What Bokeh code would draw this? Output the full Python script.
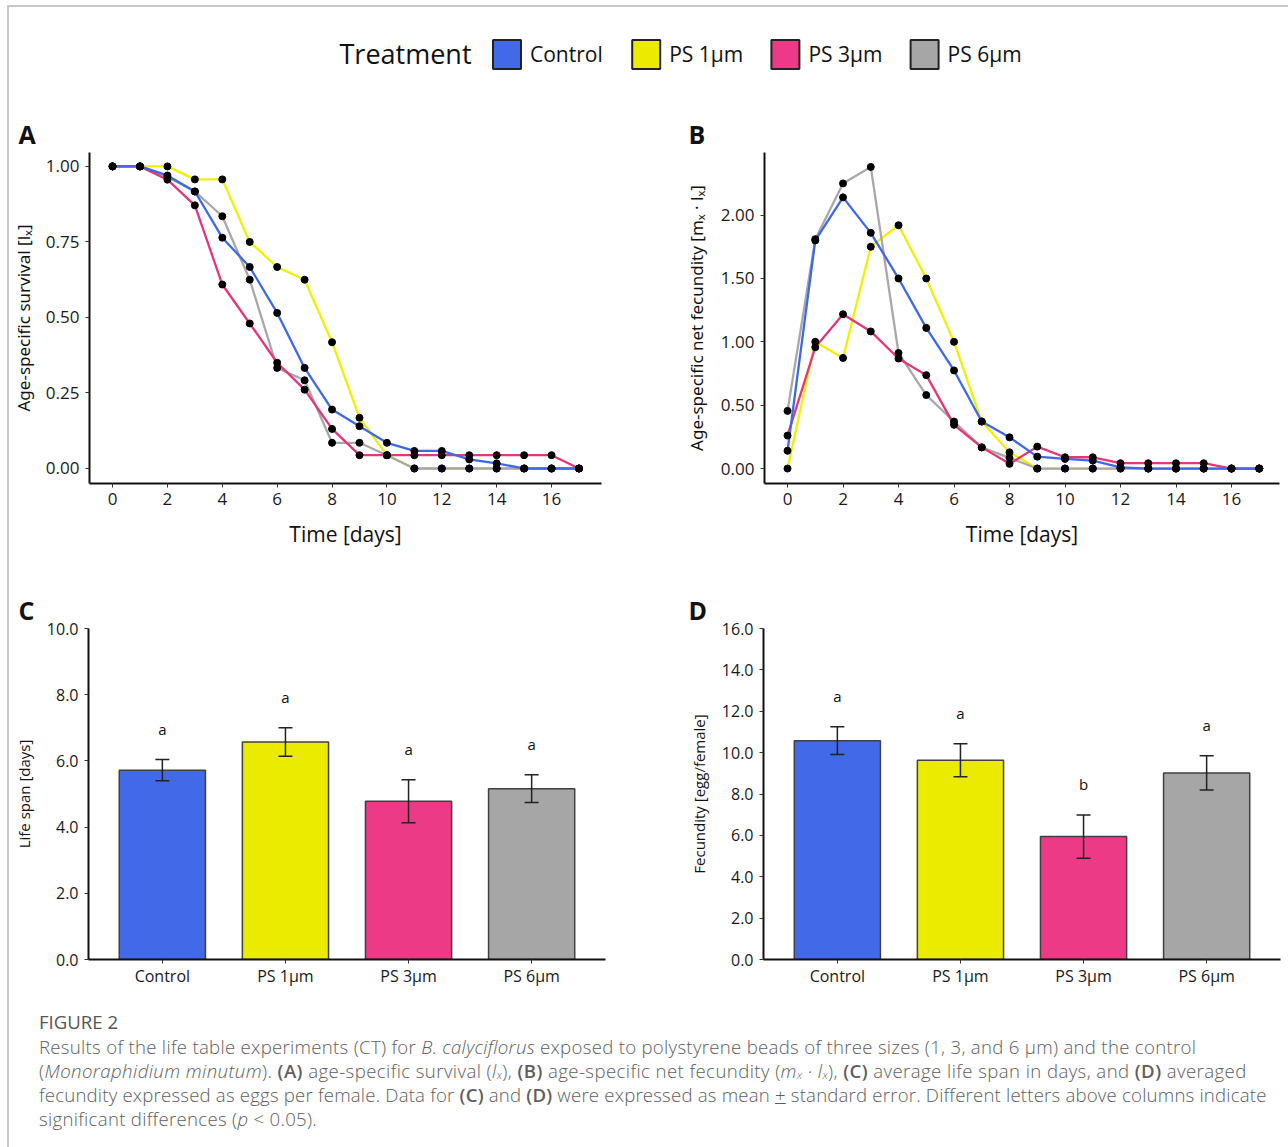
from bokeh.plotting import figure
from bokeh.models import (Range1d, FactorRange, Title, Div, Whisker, ColumnDataSource,
                          FixedTicker, NumeralTickFormatter, TeeHead)
from bokeh.layouts import column, row
from bokeh.embed import file_html
from bokeh.resources import INLINE
from bokeh.core.properties import value

# ---------------- data ----------------
treatments = ["Control", "PS 1µm", "PS 3µm", "PS 6µm"]
bar_colors = ["#4169E8", "#EBEB00", "#EC3A86", "#A6A6A6"]
line_colors = ["#3F68E8", "#F0F000", "#E8347A", "#A8A8A8"]
days = list(range(18))

survival_control = [1.0, 1.0, 0.970, 0.917, 0.764, 0.667, 0.515, 0.333, 0.195, 0.140, 0.085, 0.058, 0.058, 0.030, 0.017, 0.0, 0.0, 0.0]
survival_ps1 = [1.0, 1.0, 1.0, 0.957, 0.957, 0.750, 0.667, 0.625, 0.418, 0.168, 0.044, 0.0, 0.0, 0.0, 0.0, 0.0, 0.0, 0.0]
survival_ps3 = [1.0, 1.0, 0.956, 0.871, 0.609, 0.480, 0.350, 0.261, 0.131, 0.044, 0.044, 0.044, 0.044, 0.044, 0.044, 0.044, 0.044, 0.0]
survival_ps6 = [1.0, 1.0, 0.965, 0.917, 0.835, 0.625, 0.333, 0.292, 0.085, 0.085, 0.044, 0.0, 0.0, 0.0, 0.0, 0.0, 0.0, 0.0]

fecund_control = [0.14, 1.80, 2.14, 1.86, 1.50, 1.11, 0.774, 0.371, 0.246, 0.094, 0.076, 0.063, 0.010, 0.0, 0.0, 0.0, 0.0, 0.0]
fecund_ps1 = [0.0, 1.00, 0.873, 1.75, 1.92, 1.50, 1.00, 0.371, 0.128, 0.0, 0.0, 0.0, 0.0, 0.0, 0.0, 0.0, 0.0, 0.0]
fecund_ps3 = [0.26, 0.957, 1.218, 1.082, 0.868, 0.737, 0.345, 0.167, 0.037, 0.173, 0.089, 0.089, 0.042, 0.042, 0.042, 0.042, 0.0, 0.0]
fecund_ps6 = [0.455, 1.81, 2.25, 2.38, 0.912, 0.580, 0.371, 0.167, 0.084, 0.0, 0.0, 0.0, 0.0, 0.0, 0.0, 0.0, 0.0, 0.0]

lifespan_mean = [5.72, 6.57, 4.78, 5.16]
lifespan_se = [0.32, 0.43, 0.65, 0.42]
lifespan_letters = ["a", "a", "a", "a"]

fecundity_mean = [10.58, 9.63, 5.94, 9.02]
fecundity_se = [0.67, 0.80, 1.05, 0.83]
fecundity_letters = ["a", "a", "b", "a"]

x_ticks = [0, 2, 4, 6, 8, 10, 12, 14, 16]
surv_ticks = [0.0, 0.25, 0.5, 0.75, 1.0]
fec_ticks = [0.0, 0.5, 1.0, 1.5, 2.0]
life_ticks = [0, 2, 4, 6, 8, 10]
egg_ticks = [0, 2, 4, 6, 8, 10, 12, 14, 16]

FONT = "Open Sans"


def base_fig(**kw):
    p = figure(toolbar_location=None, output_backend="svg", **kw)
    p.border_fill_color = None
    p.background_fill_color = None
    p.outline_line_color = None
    p.grid.visible = False
    return p


def style_axes(p, tick_size, label_size):
    for ax in (p.xaxis[0], p.yaxis[0]):
        ax.axis_line_width = 2
        ax.axis_line_color = "#111111"
        ax.major_tick_line_color = "#333333"
        ax.major_tick_out = 4
        ax.major_tick_in = 0
        ax.minor_tick_line_color = None
        ax.major_label_text_font = FONT
        ax.major_label_text_font_size = tick_size
        ax.major_label_text_color = "#1a1a1a"
        ax.axis_label_text_font = FONT
        ax.axis_label_text_font_style = "normal"
        ax.axis_label_text_color = "#111111"
    p.yaxis[0].axis_label_text_font_size = label_size


def panel_letter(p, txt, offset):
    p.add_layout(Title(text=txt, align="left", offset=offset, standoff=4,
                       text_font=FONT, text_font_style="bold", text_font_size="25px",
                       text_color="#111111"), "above")


# ---------------- legend strip ----------------
LEG_W, LEG_H = 1288, 100
leg = base_fig(width=LEG_W, height=LEG_H, x_range=Range1d(0, LEG_W), y_range=Range1d(0, LEG_H),
               x_axis_location=None, y_axis_location=None, min_border=0)
sq0, step, cy = 506.5, 139.2, 46
sq_x = [sq0 + i * step for i in range(len(treatments))]
leg.rect(x=sq_x, y=cy, width=28, height=29, fill_color=bar_colors, line_color="#222222", line_width=2)
leg.text(x=[x + 23 for x in sq_x], y=cy + 1, text=treatments, text_font=value(FONT),
         text_font_size="21px", text_baseline="middle", text_color="#111111")
leg.text(x=[339], y=[cy + 1], text=["Treatment"], text_font=value(FONT),
         text_font_size="27px", text_baseline="middle", text_color="#111111")

draw_order = [1, 3, 2, 0]

# ---------------- panel A ----------------
pA = base_fig(width=660, height=475, x_range=Range1d(-0.84, 17.82), y_range=Range1d(-0.0497, 1.046),
              min_border_left=89, min_border_right=59, min_border_top=52, min_border_bottom=92)
surv = [survival_control, survival_ps1, survival_ps3, survival_ps6]
for i in draw_order:
    pA.line(days, surv[i], line_color=line_colors[i], line_width=2.3)
for i in draw_order:
    pA.scatter(days, surv[i], size=7, fill_color="black", line_color="black")
style_axes(pA, "17px", "17px")
pA.xaxis[0].ticker = FixedTicker(ticks=x_ticks)
pA.yaxis[0].ticker = FixedTicker(ticks=surv_ticks)
pA.yaxis[0].formatter = NumeralTickFormatter(format="0.00")
pA.xaxis[0].axis_label = "Time [days]"
pA.xaxis[0].axis_label_text_font_size = "21px"
pA.xaxis[0].major_label_standoff = 5
pA.xaxis[0].axis_label_standoff = 12
pA.yaxis[0].axis_label = "Age-specific survival [lₓ]"
pA.yaxis[0].axis_label_text_font = "Noto Sans"
pA.yaxis[0].major_label_standoff = 6
pA.yaxis[0].axis_label_standoff = 8
panel_letter(pA, "A", -71)

# ---------------- panel B ----------------
pB = base_fig(width=628, height=475, x_range=Range1d(-0.83, 17.73), y_range=Range1d(-0.118, 2.494),
              min_border_left=104, min_border_right=9, min_border_top=50, min_border_bottom=92)
fec = [fecund_control, fecund_ps1, fecund_ps3, fecund_ps6]
for i in draw_order:
    pB.line(days, fec[i], line_color=line_colors[i], line_width=2.3)
for i in draw_order:
    pB.scatter(days, fec[i], size=7, fill_color="black", line_color="black")
style_axes(pB, "17px", "17px")
pB.xaxis[0].ticker = FixedTicker(ticks=x_ticks)
pB.yaxis[0].ticker = FixedTicker(ticks=fec_ticks)
pB.yaxis[0].formatter = NumeralTickFormatter(format="0.00")
pB.xaxis[0].axis_label = "Time [days]"
pB.xaxis[0].axis_label_text_font_size = "21px"
pB.xaxis[0].major_label_standoff = 5
pB.xaxis[0].axis_label_standoff = 12
pB.yaxis[0].axis_label = "Age-specific net fecundity [mₓ · lₓ]"
pB.yaxis[0].axis_label_text_font = "Noto Sans"
pB.yaxis[0].major_label_standoff = 6
pB.yaxis[0].axis_label_standoff = 10
panel_letter(pB, "B", -76)


# ---------------- bar panels ----------------
def bar_panel(width, mb, y_end, means, ses, letters, ticks, ylabel, letter, loff):
    p = base_fig(width=width, height=430, x_range=FactorRange(*treatments, range_padding=0.05),
                 y_range=Range1d(0, y_end),
                 min_border_left=mb[0], min_border_right=mb[1], min_border_top=mb[2],
                 min_border_bottom=mb[3])
    upper = [m + s for m, s in zip(means, ses)]
    lower = [m - s for m, s in zip(means, ses)]
    src = ColumnDataSource(dict(x=treatments, top=means, upper=upper, lower=lower,
                                color=bar_colors, letter=letters))
    p.vbar(x="x", top="top", width=0.7, fill_color="color", line_color="#404040",
           line_width=1.5, source=src)
    p.add_layout(Whisker(base="x", upper="upper", lower="lower", source=src, level="overlay",
                         line_color="#222222", line_width=1.5,
                         upper_head=TeeHead(size=14, line_color="#222222", line_width=1.5),
                         lower_head=TeeHead(size=14, line_color="#222222", line_width=1.5)))
    p.text(x="x", y="upper", text="letter", source=src, y_offset=-31,
           text_align="center", text_baseline="middle", text_font=value(FONT),
           text_font_size="15px", text_color="#111111")
    style_axes(p, "16px", "15px")
    p.xaxis[0].major_label_standoff = 1
    p.yaxis[0].ticker = FixedTicker(ticks=ticks)
    p.yaxis[0].formatter = NumeralTickFormatter(format="0.0")
    p.yaxis[0].major_label_standoff = 6
    p.yaxis[0].axis_label = ylabel
    p.yaxis[0].axis_label_standoff = 10
    panel_letter(p, letter, loff)
    return p


pC = bar_panel(660, (88, 55, 50, 46), 10.0, lifespan_mean, lifespan_se, lifespan_letters,
               life_ticks, "Life span [days]", "C", -70)
pD = bar_panel(628, (103, 8, 53, 45), 16.0, fecundity_mean, fecundity_se, fecundity_letters,
               egg_ticks, "Fecundity [egg/female]", "D", -75)

# ---------------- caption ----------------
SUB = '<span style="font-size:11px;position:relative;top:1px;line-height:0;">x</span>'
LINE = '<div style="height:24px;line-height:24px;overflow:visible;letter-spacing:{}px;">{}</div>'
B = '<b style="font-weight:600;">{}</b>'
caption_lines = [
    (0.3, "Results of the life table experiments (CT) for <i>B. calyciflorus</i> exposed to polystyrene beads of three sizes (1, 3, and 6 µm) and the control"),
    (0.42, f"(<i>Monoraphidium minutum</i>). {B.format('(A)')} age-specific survival (<i>l{SUB}</i>), {B.format('(B)')} age-specific net fecundity (<i>m{SUB}</i> · <i>l{SUB}</i>), {B.format('(C)')} average life span in days, and {B.format('(D)')} averaged"),
    (0.2, f"fecundity expressed as eggs per female. Data for {B.format('(C)')} and {B.format('(D)')} were expressed as mean <u>+</u> standard error. Different letters above columns indicate"),
    (0.3, "significant differences (<i>p</i> &lt; 0.05)."),
]
caption_html = (
    '<div style="font-family:\'Open Sans\',sans-serif;font-weight:300;color:#5e5e5e;'
    'font-size:18.6px;white-space:nowrap;padding-left:34px;padding-top:0px;">'
    '<div style="height:25px;line-height:24px;color:#555555;font-weight:400;">FIGURE 2</div>'
    + "".join(LINE.format(ls, t) for ls, t in caption_lines) + "</div>"
)
caption = Div(text=caption_html, width=1288, height=142)

frame_bg = ("linear-gradient(#c8c8c8,#c8c8c8) 7px 5px / 2px calc(100% - 5px) no-repeat, "
            "linear-gradient(#c8c8c8,#c8c8c8) 7px 5px / calc(100% - 7px) 2px no-repeat, white")
layout = column(leg, row(pA, pB), row(pC, pD), caption, styles={"background": frame_bg})

open("out.html", "w").write(file_html(layout, INLINE))
